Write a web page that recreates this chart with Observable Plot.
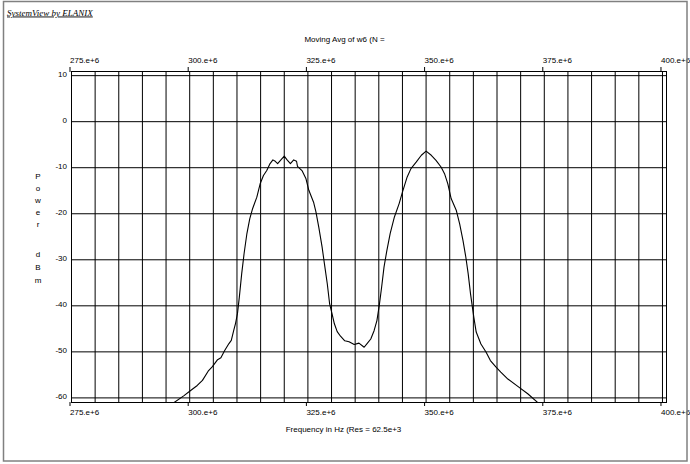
<!DOCTYPE html>
<html>
<head>
<meta charset="utf-8">
<script src="https://cdn.jsdelivr.net/npm/d3@7"></script>
<script src="https://cdn.jsdelivr.net/npm/@observablehq/plot@0.6"></script>
<style>
  html, body { margin: 0; padding: 0; background: white; }
  svg { display: block; }
</style>
</head>
<body>
<div id="chart"></div>
<script>
// ---- data (frequency in MHz, power in dBm) ----
const freqMHz = [
  296.7, 298.8, 300.2, 301.6, 302.7, 303.9, 304.8, 305.9, 306.6, 307.4,
  308.3, 308.8, 309.3, 309.7, 310.1, 310.5, 311.0, 311.5, 312.1, 312.7,
  313.3, 314.2, 314.9, 315.6, 316.3, 317.0, 317.6, 318.1, 318.6, 319.2,
  320.0, 320.6, 321.3, 322.0, 322.6, 322.8, 323.8, 324.6, 325.2, 326.2,
  326.7, 327.3, 328.0, 328.5, 329.1, 329.6, 330.1, 330.6, 331.2, 331.9,
  332.8, 333.7, 334.8, 335.8, 336.9, 337.6, 338.3, 339.0, 339.6, 340.1,
  340.6, 341.1, 341.7, 342.4, 343.3, 344.3, 345.0, 346.0, 346.8, 347.9,
  349.0, 350.0, 351.1, 352.1, 353.2, 353.9, 354.6, 355.3, 356.4, 357.1,
  357.8, 358.4, 358.9, 359.4, 360.1, 360.6, 361.6, 362.7, 363.6, 364.8,
  365.8, 367.3, 369.4, 371.5, 373.6
];
const powerDbm = [
  -61.0, -59.5, -58.4, -57.3, -56.2, -54.2, -53.2, -51.7, -51.3, -49.7,
  -48.2, -47.5, -45.4, -43.8, -41.7, -38.1, -33.0, -28.7, -24.3, -21.1,
  -18.9, -16.4, -13.5, -11.7, -10.6, -9.1, -8.3, -8.6, -9.1, -8.4,
  -7.5, -8.3, -9.1, -8.3, -8.6, -9.7, -10.7, -12.4, -14.9, -17.5,
  -19.6, -22.9, -27.2, -30.9, -35.2, -39.6, -41.7, -43.9, -45.6, -46.6,
  -47.6, -47.8, -48.4, -48.1, -49.0, -48.1, -47.2, -45.4, -43.2, -39.9,
  -35.9, -31.6, -28.0, -24.3, -20.7, -17.8, -15.3, -12.0, -10.2, -8.8,
  -7.3, -6.4, -7.3, -8.4, -9.9, -11.3, -13.5, -16.7, -19.3, -22.2,
  -25.8, -29.4, -33.0, -37.4, -42.5, -45.7, -48.3, -50.1, -51.9, -53.3,
  -54.4, -55.9, -57.5, -59.1, -61.0
];
const xTicks = [275, 300, 325, 350, 375, 400];
const xTickLabels = ["275.e+6", "300.e+6", "325.e+6", "350.e+6", "375.e+6", "400.e+6"];
const yTicks = [10, 0, -10, -20, -30, -40, -50, -60];
const yTickLabels = ["10", "0", "-10", "-20", "-30", "-40", "-50", "-60"];
const xGrid = d3.range(275, 401, 5);
const yGrid = [10, 0, -10, -20, -30, -40, -50, -60];

const titleText = "Moving Avg of w6 (N =";
const xLabelText = "Frequency in Hz (Res = 62.5e+3";
const yLabelWord1 = ["P", "o", "w", "e", "r"];
const yLabelWord2 = ["d", "B", "m"];
const brandText = "SystemView by ELANIX";

const data = freqMHz.map((f, i) => ({f, p: powerDbm[i]}));
const fmtX = d => xTickLabels[xTicks.indexOf(d)];
const fmtY = d => yTickLabels[yTicks.indexOf(d)];

const chart = Plot.plot({
  width: 690,
  height: 464,
  marginLeft: 71,
  marginRight: 24,
  marginTop: 71,
  marginBottom: 62,
  x: {domain: [275, 400.85]},
  y: {domain: [-61, 10.9]},
  style: {fontFamily: "'Liberation Sans', Arial, sans-serif", fontSize: "8px", background: "white", color: "black"},
  marks: [
    Plot.ruleX(xGrid, {stroke: "black", strokeWidth: 1}),
    Plot.ruleY(yGrid, {stroke: "black", strokeWidth: 1}),
    Plot.frame({stroke: "black", strokeWidth: 1}),
    Plot.line(data, {x: "f", y: "p", stroke: "black", strokeWidth: 1.1, clip: true}),
    Plot.axisX(xTicks, {anchor: "top", tickSize: 5, tickPadding: 4, tickFormat: fmtX, textAnchor: "start", dx: -1.5, label: null}),
    Plot.axisX(xTicks, {anchor: "bottom", tickSize: 4, tickPadding: 3, tickFormat: fmtX, textAnchor: "start", dx: -1.5, label: null}),
    Plot.axisY(yTicks, {anchor: "left", tickSize: 0, tickPadding: 4.5, dy: -1, tickFormat: fmtY, label: null})
  ]
});
document.getElementById("chart").appendChild(chart);

const svg = d3.select(chart);
const font = "'Liberation Sans', Arial, sans-serif";
// outer border
svg.append("rect").attr("x", 3.5).attr("y", 1.5).attr("width", 683.5).attr("height", 459.5)
  .attr("fill", "none").attr("stroke", "#808080").attr("stroke-width", 1.5);
// brand
svg.append("text").attr("x", 7).attr("y", 15.5).attr("text-anchor", "start")
  .attr("font-family", "'Liberation Serif', 'Times New Roman', serif").attr("font-style", "italic")
  .attr("font-size", 9).attr("text-decoration", "underline").attr("fill", "black").text(brandText);
// title
svg.append("text").attr("x", 344.5).attr("y", 42).attr("text-anchor", "middle")
  .attr("font-family", font).attr("font-size", 8).attr("fill", "black").text(titleText);
// x label
svg.append("text").attr("x", 343.5).attr("y", 432).attr("text-anchor", "middle")
  .attr("font-family", font).attr("font-size", 8).attr("fill", "black").text(xLabelText);
// y label, stacked letters
yLabelWord1.forEach((ch, i) => {
  svg.append("text").attr("x", 38).attr("y", 179 + i * 12).attr("text-anchor", "middle")
    .attr("font-family", font).attr("font-size", 8).attr("fill", "black").text(ch);
});
yLabelWord2.forEach((ch, i) => {
  svg.append("text").attr("x", 38).attr("y", 257 + i * 13).attr("text-anchor", "middle")
    .attr("font-family", font).attr("font-size", 8).attr("fill", "black").text(ch);
});
</script>
</body>
</html>
